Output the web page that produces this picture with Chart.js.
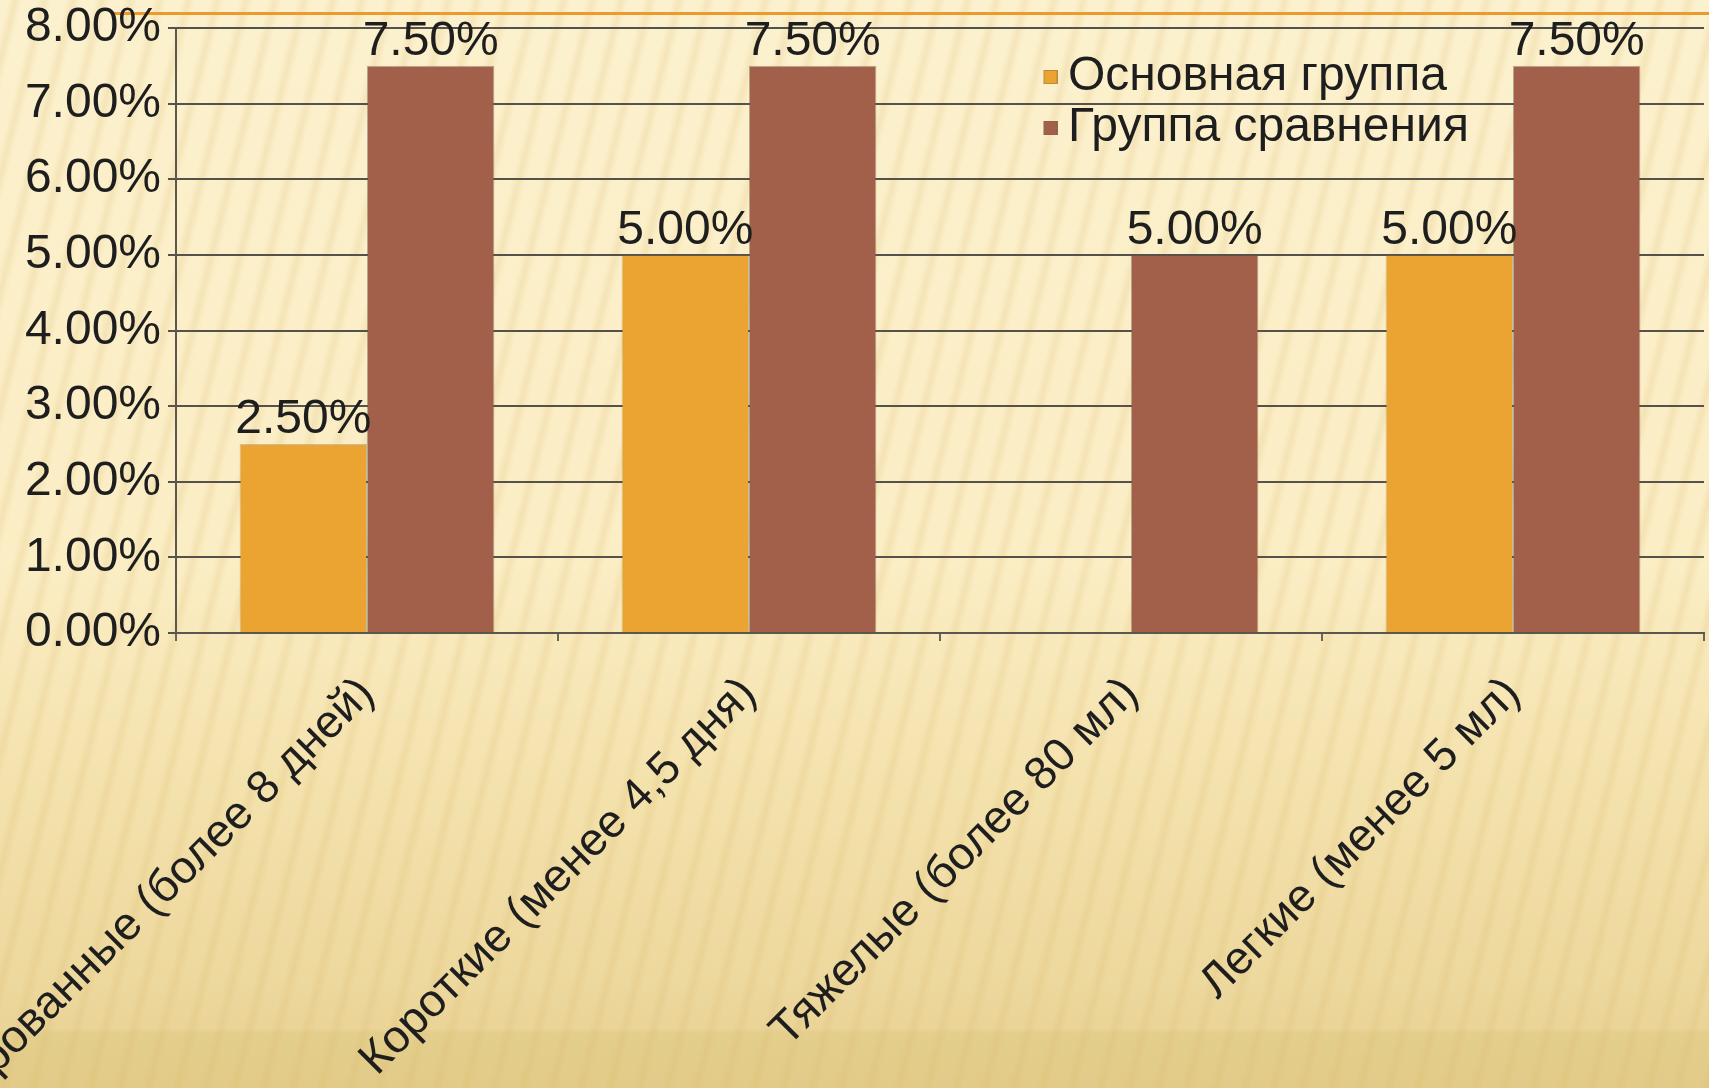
<!DOCTYPE html>
<html>
<head>
<meta charset="utf-8">
<script src="https://cdn.jsdelivr.net/npm/chart.js@4/dist/chart.umd.min.js"></script>
<style>
html, body { margin: 0; padding: 0; }
body {
  width: 1709px; height: 1088px; overflow: hidden; position: relative;
  background:
    repeating-linear-gradient(104deg, rgba(215,182,105,0) 0px, rgba(215,182,105,0) 8px, rgba(215,182,105,0.2) 15px, rgba(215,182,105,0) 22px, rgba(215,182,105,0) 28px),
    linear-gradient(to bottom, #FCF1CE 0%, #FBEDC4 52%, #F4E2AD 72%, #EDD89D 90%, #EAD498 94.5%, #E4CE8C 95%, #E2CB88 100%);
}
#topline { position: absolute; left: 111px; top: 12px; width: 1598px; height: 3px; background: #EC9A2E; }
#c { position: absolute; left: 0; top: 0; }
</style>
</head>
<body>
<div id="topline"></div>
<canvas id="c" width="1709" height="1088"></canvas>
<script>
const categories = [
  'Пролонгированные (более 8 дней)',
  'Короткие (менее 4,5 дня)',
  'Тяжелые (более 80 мл)',
  'Легкие (менее 5 мл)'
];
const seriesNames = ['Основная группа', 'Группа сравнения'];
const seriesColors = ['#EBA331', '#A2604B'];
const mainGroup = [2.5, 5.0, 0, 5.0];
const comparisonGroup = [7.5, 7.5, 5.0, 7.5];
const yTickLabels = ['0.00%', '1.00%', '2.00%', '3.00%', '4.00%', '5.00%', '6.00%', '7.00%', '8.00%'];

const FONT = "'Liberation Sans', Arial, sans-serif";
const FS = 48;
const FSX = 46;
Chart.defaults.font.family = FONT;
Chart.defaults.font.size = FS;
Chart.defaults.color = '#1e1e1e';

// small square legend marker, drawn in the right half of a canvas so it sits close to the text
function legendMarker(color) {
  const S = 14;
  const cv = document.createElement('canvas');
  cv.width = 2 * S; cv.height = S;
  const g = cv.getContext('2d');
  g.fillStyle = color;
  g.fillRect(S, 0, S, S);
  g.strokeStyle = 'rgba(120,100,70,0.4)';
  g.lineWidth = 1;
  g.strokeRect(S + 0.5, 0.5, S - 1, S - 1);
  return cv;
}

const placeLegend = {
  id: 'placeLegend',
  afterLayout(chart) {
    const lg = chart.legend;
    if (!lg) return;
    lg.left = 1040; lg.top = 50;
    lg.width = 640; lg.height = 120;
    lg.right = lg.left + lg.width; lg.bottom = lg.top + lg.height;
  }
};

const valueLabels = {
  id: 'valueLabels',
  afterDatasetsDraw(chart) {
    const ctx = chart.ctx;
    ctx.save();
    ctx.font = FS + 'px ' + FONT;
    ctx.fillStyle = '#1e1e1e';
    ctx.textAlign = 'center';
    ctx.textBaseline = 'alphabetic';
    chart.data.datasets.forEach((ds, di) => {
      const meta = chart.getDatasetMeta(di);
      meta.data.forEach((bar, i) => {
        const v = ds.data[i];
        if (!v) return;
        ctx.fillText(v.toFixed(2) + '%', bar.x, bar.y - 11);
      });
    });
    ctx.restore();
  }
};

new Chart(document.getElementById('c'), {
  type: 'bar',
  data: {
    labels: categories,
    datasets: [
      { label: seriesNames[0], data: mainGroup, backgroundColor: seriesColors[0], borderColor: 'rgba(120,100,70,0.35)', borderWidth: 1, pointStyle: legendMarker(seriesColors[0]) },
      { label: seriesNames[1], data: comparisonGroup, backgroundColor: seriesColors[1], borderColor: 'rgba(100,80,70,0.45)', borderWidth: 1, pointStyle: legendMarker(seriesColors[1]) }
    ]
  },
  options: {
    responsive: false,
    devicePixelRatio: 1,
    animation: false,
    events: [],
    layout: { padding: { left: 0, right: 4, top: 28, bottom: 0 } },
    datasets: { bar: { categoryPercentage: 0.667, barPercentage: 1.0 } },
    plugins: {
      tooltip: { enabled: false },
      legend: {
        position: 'right',
        align: 'start',
        maxWidth: 1,
        labels: {
          usePointStyle: true, pointStyleWidth: 1, boxHeight: 14, padding: 3,
          color: '#1e1e1e',
          font: { size: FS, family: FONT }
        }
      }
    },
    scales: {
      x: {
        grid: { display: true, drawOnChartArea: false, drawTicks: true, tickLength: 8, color: '#6a6558', lineWidth: 2, offset: true },
        border: { display: true, color: '#5a574e', width: 2 },
        ticks: { autoSkip: false, maxRotation: 45, minRotation: 45, padding: 26, color: '#1e1e1e', font: { size: FSX } },
        afterFit(scale) { scale.height = 455; scale.paddingLeft = 0; scale.paddingRight = 0; }
      },
      y: {
        min: 0, max: 8,
        ticks: { stepSize: 1, padding: 7, color: '#1e1e1e', font: { size: FS },
                 callback: (v, i) => yTickLabels[i] },
        grid: { color: '#55524a', lineWidth: 2, drawTicks: true, tickLength: 8 },
        border: { display: true, color: '#5a574e', width: 2 },
        afterFit(scale) { scale.width = 176; scale.paddingTop = 0; scale.paddingBottom = 0; }
      }
    }
  },
  plugins: [placeLegend, valueLabels]
});
</script>
</body>
</html>
